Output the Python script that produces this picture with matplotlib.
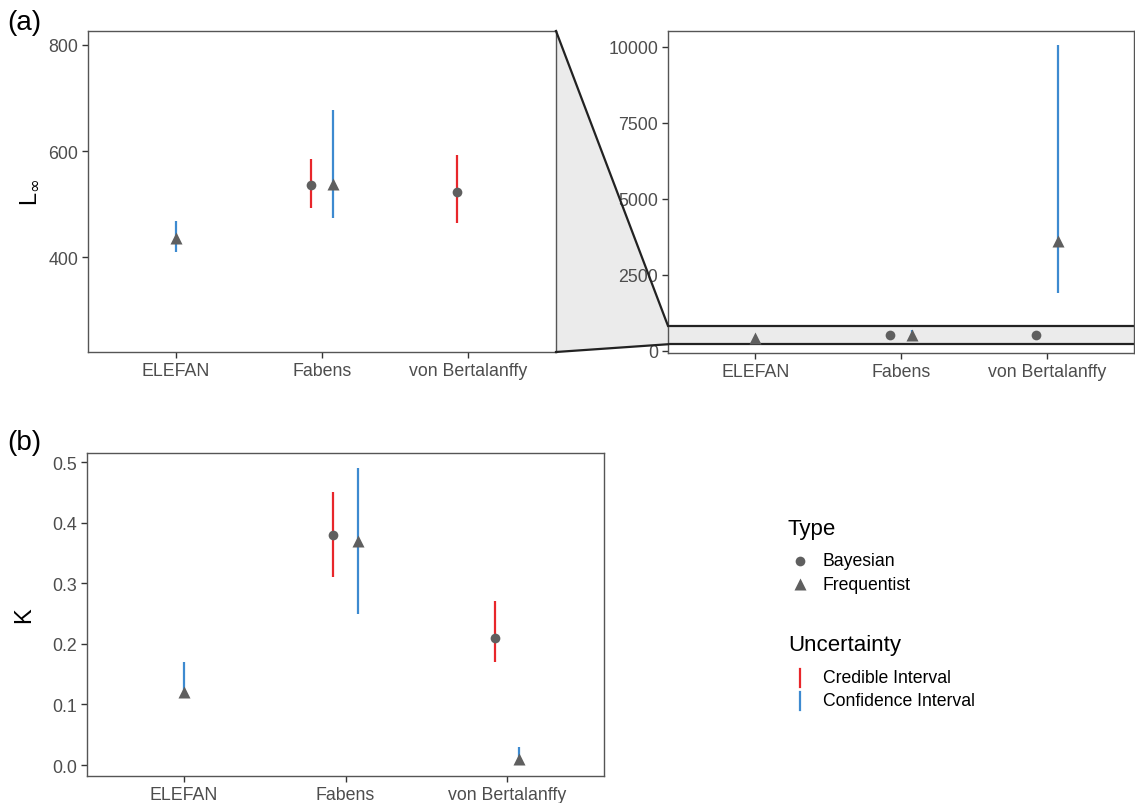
import numpy as np
import matplotlib
matplotlib.use("Agg")
import matplotlib.pyplot as plt
from matplotlib.lines import Line2D
from matplotlib.patches import Polygon

plt.rcParams['font.family'] = ['Liberation Sans', 'DejaVu Sans']

# ---------------- data ----------------
methods = ["ELEFAN", "Fabens", "von Bertalanffy"]
nan = np.nan

# L-infinity
bayes_linf_est = [nan, 536, 524]
bayes_linf_lo = [nan, 493, 464]
bayes_linf_hi = [nan, 586, 592]
freq_linf_est = [437, 539, 3630]
freq_linf_lo = [410, 474, 1900]
freq_linf_hi = [469, 678, 10066]

# K
bayes_k_est = [nan, 0.38, 0.21]
bayes_k_lo = [nan, 0.31, 0.17]
bayes_k_hi = [nan, 0.45, 0.27]
freq_k_est = [0.12, 0.37, 0.01]
freq_k_lo = [0.11, 0.25, 0.006]
freq_k_hi = [0.17, 0.49, 0.03]

zoom_ylim = (222, 826)

# ---------------- style ----------------
RED = "#E8262B"
BLUE = "#3D8AD0"
PT = "#5F5F5F"
DODGE = 0.075
TXT = "#4D4D4D"
TICK_FS = 12.8

W, H = 1135, 804
fig = plt.figure(figsize=(W / 100, H / 100), dpi=100)


def rect(l, t, r, b):
    return [l / W, 1 - b / H, (r - l) / W, (b - t) / H]


ax1 = fig.add_axes(rect(88, 32, 556, 353))
ax2 = fig.add_axes(rect(668, 32, 1134, 354))
ax3 = fig.add_axes(rect(87, 454, 604, 777))


def draw(ax, b_est, b_lo, b_hi, f_est, f_lo, f_hi):
    x = np.arange(1, len(methods) + 1)
    for i in range(len(methods)):
        has_b = not np.isnan(b_est[i])
        has_f = not np.isnan(f_est[i])
        off = DODGE if (has_b and has_f) else 0.0
        if has_b:
            ax.vlines(x[i] - off, b_lo[i], b_hi[i], color=RED, lw=1.6, zorder=3)
            ax.plot(x[i] - off, b_est[i], 'o', color=PT, ms=7, mec='none', zorder=4)
        if has_f:
            ax.vlines(x[i] + off, f_lo[i], f_hi[i], color=BLUE, lw=1.6, zorder=3)
            ax.plot(x[i] + off, f_est[i], '^', color=PT, ms=9, mec='none', zorder=4)
    ax.set_xlim(0.4, len(methods) + 0.6)
    ax.set_xticks(x)
    ax.set_xticklabels(methods)


def style(ax):
    for s in ax.spines.values():
        s.set_color("#555555")
        s.set_linewidth(1.0)
    ax.tick_params(axis='both', colors="#333333", length=4, width=1,
                   labelsize=TICK_FS, labelcolor=TXT, pad=3)


draw(ax1, bayes_linf_est, bayes_linf_lo, bayes_linf_hi,
     freq_linf_est, freq_linf_lo, freq_linf_hi)
draw(ax2, bayes_linf_est, bayes_linf_lo, bayes_linf_hi,
     freq_linf_est, freq_linf_lo, freq_linf_hi)
draw(ax3, bayes_k_est, bayes_k_lo, bayes_k_hi,
     freq_k_est, freq_k_lo, freq_k_hi)

for ax in (ax1, ax2, ax3):
    style(ax)

ax1.set_ylim(*zoom_ylim)
ax1.set_yticks([400, 600, 800])
ax2.set_ylim(-66, 10526)
ax2.set_yticks([0, 2500, 5000, 7500, 10000])
ax3.set_ylim(-0.018, 0.515)
ax3.set_yticks([0.0, 0.1, 0.2, 0.3, 0.4, 0.5])
ax3.set_yticklabels(["0.0", "0.1", "0.2", "0.3", "0.4", "0.5"])

ax1.set_ylabel("L$_{\\infty}$", fontsize=17, color="black")
ax1.yaxis.set_label_coords(-0.100, 0.5)
ax3.set_ylabel("K", fontsize=17, color="black")
ax3.yaxis.set_label_coords(-0.101, 0.5)

# zoom band in overview panel
ax2.axhspan(zoom_ylim[0], zoom_ylim[1], facecolor="#EBEBEB", edgecolor='none', zorder=1)
ax2.axhline(zoom_ylim[0], color="#222222", lw=1.6, zorder=2)
ax2.axhline(zoom_ylim[1], color="#222222", lw=1.6, zorder=2)

# trapezoid connecting zoom panel to band
inv = fig.transFigure.inverted()
p_tl = inv.transform(ax1.transAxes.transform((1, 1)))
p_bl = inv.transform(ax1.transAxes.transform((1, 0)))
xl2 = ax2.get_xlim()[0]
p_tr = inv.transform(ax2.transData.transform((xl2, zoom_ylim[1])))
p_br = inv.transform(ax2.transData.transform((xl2, zoom_ylim[0])))
poly = Polygon([p_tl, p_tr, p_br, p_bl], closed=True, facecolor="#EBEBEB",
               edgecolor='none', transform=fig.transFigure, zorder=-1)
fig.add_artist(poly)
fig.add_artist(Line2D([p_tl[0], p_tr[0]], [p_tl[1], p_tr[1]], color="#222222",
                      lw=1.6, transform=fig.transFigure))
fig.add_artist(Line2D([p_bl[0], p_br[0]], [p_bl[1], p_br[1]], color="#222222",
                      lw=1.6, transform=fig.transFigure))

# panel labels
fig.text(7 / W, 1 - 23 / H, "(a)", fontsize=20, va='center', ha='left')
fig.text(7 / W, 1 - 443 / H, "(b)", fontsize=20, va='center', ha='left')

# legends (manual)
def fx(px):
    return px / W


def fy(py):
    return 1 - py / H


fig.text(fx(788), fy(529), "Type", fontsize=16, va='center', ha='left')
fig.add_artist(Line2D([fx(800)], [fy(562)], marker='o', ms=7, color=PT, mec='none',
                      transform=fig.transFigure))
fig.text(fx(823), fy(562), "Bayesian", fontsize=12.7, va='center', ha='left')
fig.add_artist(Line2D([fx(800)], [fy(585)], marker='^', ms=9, color=PT, mec='none',
                      transform=fig.transFigure))
fig.text(fx(823), fy(585), "Frequentist", fontsize=12.7, va='center', ha='left')

fig.text(fx(788), fy(646), "Uncertainty", fontsize=16, va='center', ha='left')
fig.add_artist(Line2D([fx(800), fx(800)], [fy(670), fy(688)], color=RED, lw=1.6,
                      transform=fig.transFigure))
fig.text(fx(823), fy(679), "Credible Interval", fontsize=12.7, va='center', ha='left')
fig.add_artist(Line2D([fx(800), fx(800)], [fy(693), fy(711)], color=BLUE, lw=1.6,
                      transform=fig.transFigure))
fig.text(fx(823), fy(702), "Confidence Interval", fontsize=12.7, va='center', ha='left')

fig.savefig("out.png", dpi=100)
